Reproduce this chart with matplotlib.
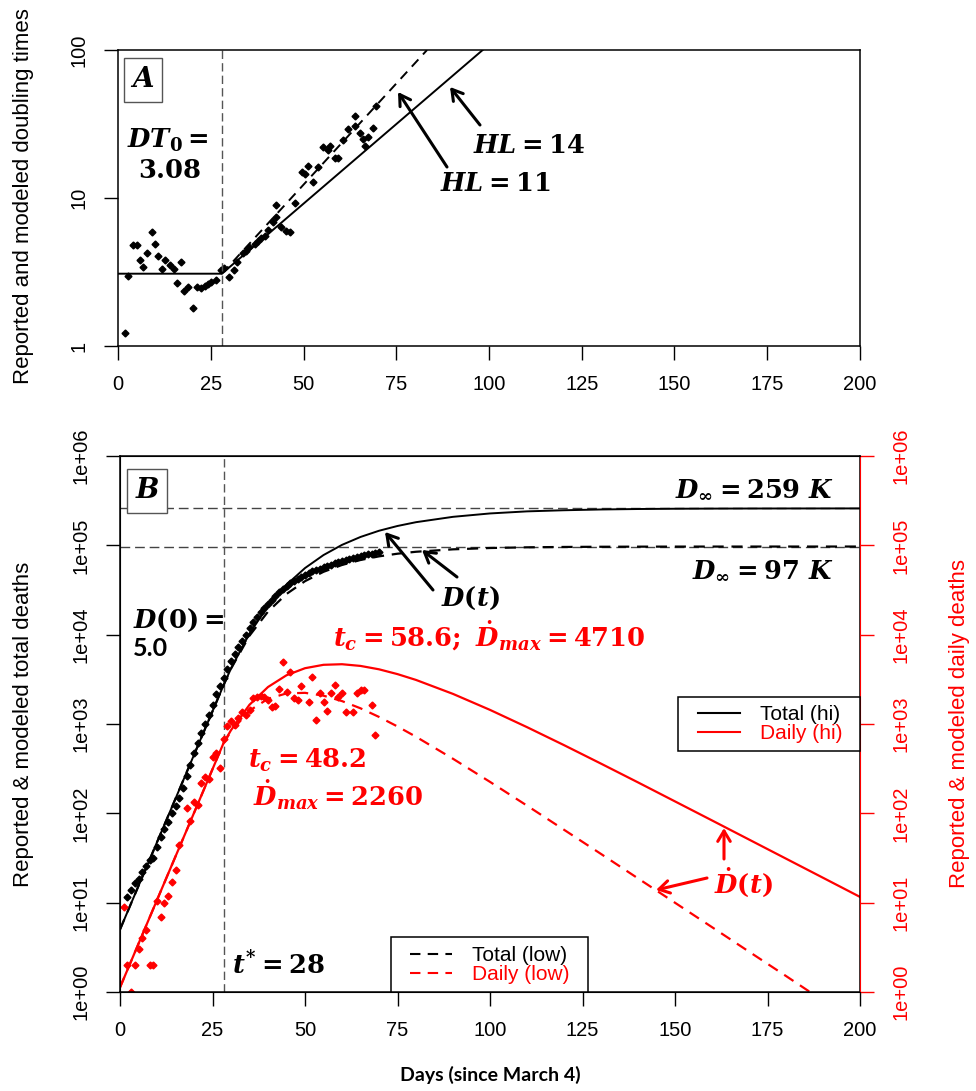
import matplotlib
matplotlib.use('Agg')
import matplotlib.pyplot as plt
from matplotlib.lines import Line2D
from matplotlib.patches import Rectangle, FancyArrowPatch
from matplotlib.ticker import NullLocator

plt.rcParams['font.family'] = ['Liberation Sans', 'DejaVu Sans']
plt.rcParams['mathtext.fontset'] = 'custom'
plt.rcParams['mathtext.rm'] = 'DejaVu Serif:bold'
plt.rcParams['mathtext.it'] = 'DejaVu Serif:italic:bold'
plt.rcParams['mathtext.bf'] = 'DejaVu Serif:bold'

W, H = 976, 1091


def px(x, y):
    # pixel position in the reference -> figure fraction
    return (x / W, 1 - y / H)


# ---------------- panel A: doubling times ----------------
dt_days = [1.9, 2.8, 4.1, 5.0, 5.9, 6.8, 7.9, 9.1, 10.0, 10.9, 11.8, 12.7, 14.1, 15.0,
           16.0, 17.0, 17.7, 18.8, 20.3, 21.4, 22.3, 23.4, 24.3, 25.2, 26.4, 27.7, 28.6,
           30.0, 31.3, 32.2, 33.6, 34.5, 35.4, 36.8, 37.7, 38.6, 39.5, 40.4, 41.8, 42.7,
           42.7, 44.0, 45.4, 46.3, 47.6, 49.5, 50.3, 51.2, 52.6, 54.0, 55.3, 56.7, 57.1,
           58.5, 59.4, 60.7, 62.1, 63.9, 63.9, 65.2, 66.1, 66.6, 67.5, 68.6, 69.5]
dt_vals = [1.22, 2.97, 4.8, 4.85, 3.81, 3.4, 4.23, 5.87, 4.89, 4.06, 3.3, 3.81, 3.53, 3.3,
           2.68, 3.71, 2.36, 2.5, 1.81, 2.49, 2.45, 2.53, 2.62, 2.71, 2.81, 3.28, 3.35,
           2.91, 3.28, 3.71, 4.23, 4.41, 4.65, 4.89, 5.15, 5.4, 5.5, 6.08, 6.92, 7.48,
           8.97, 6.4, 6.0, 5.9, 9.3, 15.1, 14.5, 16.4, 12.9, 16.3, 22.2, 21.2, 22.4,
           18.5, 18.5, 24.6, 29.1, 35.8, 30.6, 27.5, 25.0, 22.4, 25.7, 29.6, 42.0]

# modeled doubling time (vertices of the piecewise lines)
dt_hi_days = [0, 28, 98.3]
dt_hi_vals = [3.08, 3.08, 100]
dt_low_days = [28, 83.3]
dt_low_vals = [3.08, 100]

# ---------------- panel B: deaths ----------------
tot_days = list(range(2, 71))
tot_vals = [11.7, 14, 16.5, 18.3, 22, 26, 30, 32, 42, 55, 66, 80, 100, 120, 150, 190,
            262, 348, 477, 608, 787, 1000, 1260, 1650, 2150, 2650, 3300, 4100, 5100,
            6100, 7300, 8600, 10000, 11800, 13700, 15700, 17800, 20000, 22200, 24600,
            27100, 29800, 32500, 35000, 37400, 39800, 42200, 44500, 46800, 49000, 51100,
            53000, 55000, 57000, 59000, 61000, 63000, 65000, 66700, 68400, 70000, 71800,
            73500, 75500, 77500, 79000, 81000, 83000, 84500]

daily_days = [1, 2, 3, 4, 5, 6, 7, 8, 9, 10, 11, 12, 13, 14, 15, 16, 18, 19, 20, 21, 22,
              23, 24, 25, 26, 27, 28, 29, 30, 31, 32, 33, 34, 35, 36, 37, 38, 39, 40, 41,
              42, 43, 44, 45, 46, 47, 48, 49, 51, 52, 53, 54, 55, 56, 57, 58, 59, 60, 61,
              63, 64, 65, 66, 68, 69]
daily_vals = [9, 2, 1, 2, 3, 4, 5, 2, 2, 10.5, 7, 10, 12, 17, 23, 44, 114, 83, 135, 124,
              220, 257, 245, 430, 477, 319, 675, 950, 1090, 975, 1160, 1375, 1260, 1420,
              1940, 2000, 2060, 2020, 1860, 1560, 1590, 2450, 4990, 2300, 3850, 1940, 1860,
              2660, 1780, 3330, 1110, 2210, 1780, 1410, 2210, 2730, 2020, 2210, 1370, 1370,
              2210, 2400, 2400, 1630, 753]

model_days = [0, 5, 10, 15, 20, 25, 28, 30, 35, 40, 45, 50, 55, 60, 65, 70, 75, 80, 90,
              100, 110, 120, 130, 140, 150, 160, 170, 180, 190, 200]
total_hi = [5, 15.4, 47.5, 146, 451, 1388, 2727, 4186, 10325, 20890, 36210, 55660, 77830,
            101200, 124100, 145600, 164700, 181600, 208500, 227500, 240000, 247000,
            252000, 255000, 256800, 257700, 258300, 258600, 258800, 259000]
total_low = [5, 15.4, 47.5, 146, 451, 1388, 2727, 4162, 9744, 18115, 28550, 39700, 50530,
             60270, 68530, 75260, 80590, 84730, 90210, 93320, 95010, 95910, 96400, 96650,
             96790, 96860, 96900, 96920, 96930, 96940]
daily_hi = [1.125, 3.47, 10.7, 32.9, 101, 312, 614, 853, 1643, 2595, 3512, 4213, 4598,
            4668, 4468, 4095, 3617, 3114, 2172, 1439, 922, 580, 360, 222, 136, 83.3, 50.9,
            31.1, 19.0, 11.6]
daily_low = [1.125, 3.47, 10.7, 32.9, 101, 312, 614, 826, 1411, 1915, 2200, 2233, 2075,
             1805, 1499, 1200, 938, 720, 408, 225, 122, 65.5, 35.1, 18.7, 9.98, 5.32, 2.83,
             1.51, 0.80, 0.43]

d_inf_hi = 259000
d_inf_low = 97000
t_star = 28

fig = plt.figure(figsize=(W / 100, H / 100), dpi=100)

axA = fig.add_axes([118 / W, 1 - 346 / H, (860 - 118) / W, (346 - 50) / H])
axB = fig.add_axes([120 / W, 1 - 992 / H, (860 - 120) / W, (992 - 456) / H])

SERIF = dict(family='DejaVu Serif', weight='bold')
MS = 18.5
TICK = 14.5
DASH = (5, 3.5)

# ---- panel A ----
axA.set_yscale('log')
axA.plot(dt_hi_days, dt_hi_vals, color='black', lw=1.4)
axA.plot(dt_low_days, dt_low_vals, color='black', lw=1.4, dashes=DASH)
axA.plot(dt_days, dt_vals, 'D', color='black', ms=3.5)
axA.axvline(t_star, color='#555555', lw=1, dashes=(6, 3))
axA.set_ylim(1, 100)
axA.set_yticks([1, 10, 100], ['1', '10', '100'], rotation=90, va='center')

# ---- panel B ----
axB.set_yscale('log')
axB.axhline(d_inf_hi, color='#444444', lw=1, dashes=(7, 3.5))
axB.axhline(d_inf_low, color='#444444', lw=1, dashes=(7, 3.5))
axB.axvline(t_star, color='#555555', lw=1, dashes=(6, 3))
axB.plot(model_days, total_hi, color='black', lw=1.4)
axB.plot(model_days, total_low, color='black', lw=1.6, dashes=DASH)
axB.plot(model_days, daily_hi, color='red', lw=1.6)
axB.plot(model_days, daily_low, color='red', lw=1.6, dashes=DASH)
axB.plot(tot_days, tot_vals, 'D', color='black', ms=3.5)
axB.plot(daily_days, daily_vals, 'D', color='red', ms=3.5)
axB.set_ylim(1, 1e6)
ylog = [1, 10, 100, 1e3, 1e4, 1e5, 1e6]
ylab = ['1e+00', '1e+01', '1e+02', '1e+03', '1e+04', '1e+05', '1e+06']
axB.set_yticks(ylog, ylab, rotation=90, va='center')

axR = axB.twinx()
axR.set_yscale('log')
axR.set_ylim(1, 1e6)
axR.set_yticks(ylog, ylab, rotation=90, va='center')
axR.yaxis.set_minor_locator(NullLocator())
axR.tick_params(axis='y', colors='red', length=10, width=1, labelsize=TICK, pad=13)
axR.spines['right'].set_color('red')

for ax in (axA, axB):
    ax.set_xlim(0, 200)
    ax.set_xticks(range(0, 201, 25))
    ax.yaxis.set_minor_locator(NullLocator())
    ax.tick_params(axis='both', length=10, width=1, labelsize=TICK, pad=11)
    for s in ax.spines.values():
        s.set_linewidth(1.1)

# ---- legends (frames drawn at the reference boxes) ----
for x0, y0, x1, y1 in [(678, 697, 860, 751), (391, 937, 588, 992)]:
    fig.add_artist(Rectangle(px(x0, y1), (x1 - x0) / W, (y1 - y0) / H,
                             transform=fig.transFigure, fc='white', ec='black',
                             lw=1.1, zorder=4))

leg_kw = dict(loc='center left', frameon=False, borderpad=0, borderaxespad=0,
              fontsize=15, labelspacing=0.0, handlelength=2.0, handletextpad=1.0,
              labelcolor='linecolor')
leg_hi = fig.legend([Line2D([], [], color='black', lw=1.5),
                     Line2D([], [], color='red', lw=1.5)],
                    ['Total (hi)', 'Daily (hi)'], bbox_to_anchor=px(698, 724), **leg_kw)
leg_hi.set_zorder(5)
leg_low = fig.legend([Line2D([], [], color='black', lw=1.5, dashes=DASH),
                      Line2D([], [], color='red', lw=1.5, dashes=DASH)],
                     ['Total (low)', 'Daily (low)'], bbox_to_anchor=px(410, 965), **leg_kw)
leg_low.set_zorder(5)

# ---- axis titles ----
fig.text(*px(24, 196), 'Reported and modeled doubling times', rotation=90,
         ha='center', va='center', fontsize=16)
fig.text(*px(24, 724), 'Reported & modeled total deaths', rotation=90,
         ha='center', va='center', fontsize=16)
fig.text(*px(959, 724), 'Reported & modeled daily deaths', rotation=90,
         ha='center', va='center', fontsize=16, color='red')
fig.text(*px(490, 1075), 'Days (since March 4)', ha='center', va='center',
         fontsize=14, family='Lato', weight='bold')

# ---- annotations, panel A ----
box = dict(boxstyle='square,pad=0.3', fc='white', ec='#555555', lw=1)
fig.text(*px(143, 80), 'A', ha='center', va='center', fontsize=20, style='italic',
         bbox=box, **SERIF)
fig.text(*px(168, 140), r'$DT_0 =$', ha='center', va='center', fontsize=MS)
fig.text(*px(170, 171), r'$3.08$', ha='center', va='center', fontsize=MS)
fig.text(*px(473, 153), r'$HL = 14$', ha='left', va='baseline', fontsize=MS)
fig.text(*px(440, 191), r'$HL = 11$', ha='left', va='baseline', fontsize=MS)


def arrow(tail, head, color='black'):
    fig.add_artist(FancyArrowPatch(
        px(*tail), px(*head), transform=fig.transFigure,
        arrowstyle='->,head_length=7.5,head_width=4.5', lw=2.2, color=color,
        shrinkA=0, shrinkB=0))


arrow((447, 167), (398, 92))
arrow((480, 125), (450, 87))

# ---- annotations, panel B ----
fig.text(*px(147, 491), 'B', ha='center', va='center', fontsize=20, style='italic',
         bbox=box, **SERIF)
fig.text(*px(833, 497), r'$D_\infty = 259\ K$', ha='right', va='baseline', fontsize=MS)
fig.text(*px(833, 578), r'$D_\infty = 97\ K$', ha='right', va='baseline', fontsize=MS)
fig.text(*px(470, 598), r'$D(t)$', ha='center', va='center', fontsize=MS)
arrow((433, 590), (385, 532))
arrow((457, 577), (422, 550))
fig.text(*px(133, 628), r'$D(0) =$', ha='left', va='baseline', fontsize=MS)
fig.text(*px(133, 656), '5.0', ha='left', va='baseline', fontsize=18,
         family='Lato', weight='bold')
fig.text(*px(333, 647), r'$t_c = 58.6;\ \dot{D}_{max} = 4710$', ha='left',
         va='baseline', fontsize=MS, color='red')
fig.text(*px(248, 768), r'$t_c = 48.2$', ha='left', va='baseline', fontsize=MS,
         color='red')
fig.text(*px(253, 806), r'$\dot{D}_{max} = 2260$', ha='left', va='baseline',
         fontsize=MS, color='red')
fig.text(*px(232, 974), r'$t^{*} = 28$', ha='left', va='baseline', fontsize=MS)
fig.text(*px(743, 882), r'$\dot{D}(t)$', ha='center', va='center', fontsize=MS,
         color='red')
arrow((724, 859), (724, 828), 'red')
arrow((707, 878), (656, 890), 'red')

fig.savefig('out.png', dpi=100)
